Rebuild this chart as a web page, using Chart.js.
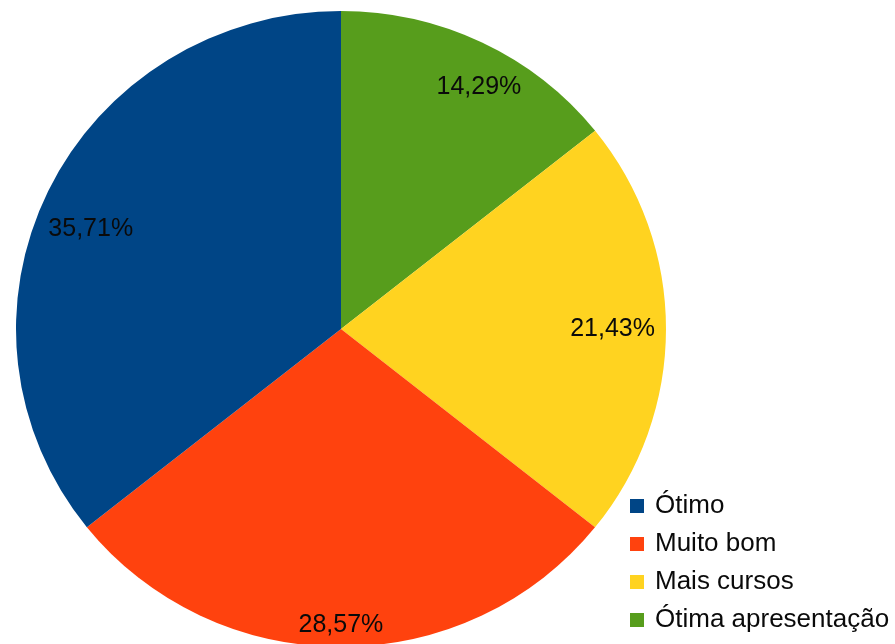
<!DOCTYPE html>
<html>
<head>
<meta charset="utf-8">
<script src="https://cdn.jsdelivr.net/npm/chart.js@4/dist/chart.umd.min.js"></script>
<style>
  html, body { margin: 0; padding: 0; background: #ffffff; overflow: hidden; }
  #wrap { position: absolute; left: 0; top: 0; width: 895px; height: 647px; }
</style>
</head>
<body>
<div id="wrap"><canvas id="c"></canvas></div>
<script>
// Data (legend order)
const categories = ["Ótimo", "Muito bom", "Mais cursos", "Ótima apresentação"];
const percentages = [35.71, 28.57, 21.43, 14.29];
const sliceColors = ["#004586", "#ff420e", "#ffd320", "#579d1c"];

// Slices are drawn clockwise from the top starting with the last category
const drawOrder = [3, 2, 1, 0];
const pieLabels = drawOrder.map(i => categories[i]);
const pieValues = drawOrder.map(i => percentages[i]);
const pieColors = drawOrder.map(i => sliceColors[i]);

const FONT = "'Liberation Sans', Arial, sans-serif";
const STRETCH_X = 1.022; // the original pie is very slightly wider than tall

const stretchPlugin = {
  id: 'stretch',
  beforeDatasetsDraw(chart) {
    const meta = chart.getDatasetMeta(0);
    const arc = meta.data[0];
    const ctx = chart.ctx;
    ctx.save();
    ctx.translate(arc.x, arc.y);
    ctx.scale(STRETCH_X, 1);
    ctx.translate(-arc.x, -arc.y);
  },
  afterDatasetsDraw(chart) {
    chart.ctx.restore();
  }
};

const labelPlugin = {
  id: 'sliceLabels',
  afterDatasetsDraw(chart) {
    const ctx = chart.ctx;
    const meta = chart.getDatasetMeta(0);
    ctx.save();
    ctx.font = "25px " + FONT;
    ctx.fillStyle = "#0a0a0a";
    ctx.textAlign = "center";
    ctx.textBaseline = "middle";
    meta.data.forEach((arc, i) => {
      const p = arc.getProps(['x', 'y', 'startAngle', 'endAngle', 'outerRadius'], true);
      let mid = (p.startAngle + p.endAngle) / 2;
      // labels lean slightly toward the horizontal axis
      mid -= (4.3 * Math.PI / 180) * Math.sin(2 * mid);
      const ux = Math.cos(mid), uy = Math.sin(mid);
      const txt = pieValues[i].toFixed(2).replace('.', ',') + '%';
      const w = ctx.measureText(txt).width;
      const h = 22;
      const rx = p.outerRadius * STRETCH_X, ry = p.outerRadius;
      const ext = Math.abs(ux) * w / 2 + Math.abs(uy) * h / 2;
      const m = 11;
      ctx.fillText(txt, p.x + ux * (rx - m - ext), p.y + uy * (ry - m - ext));
    });
    ctx.restore();
  }
};

const legendPlugin = {
  id: 'sideLegend',
  afterDraw(chart) {
    const ctx = chart.ctx;
    ctx.save();
    ctx.font = "26px " + FONT;
    ctx.textAlign = "left";
    ctx.textBaseline = "alphabetic";
    const x0 = 630, y0 = 513, step = 38, box = 14;
    categories.forEach((name, i) => {
      const base = y0 + i * step;
      ctx.fillStyle = sliceColors[i];
      ctx.fillRect(x0, base - box, box, box);
      ctx.fillStyle = "#0a0a0a";
      ctx.fillText(name, x0 + 25, base);
    });
    ctx.restore();
  }
};

new Chart(document.getElementById('c'), {
  type: 'pie',
  data: {
    labels: pieLabels,
    datasets: [{
      data: pieValues,
      backgroundColor: pieColors,
      borderWidth: 0,
      hoverOffset: 0
    }]
  },
  options: {
    responsive: true,
    maintainAspectRatio: false,
    animation: false,
    events: [],
    layout: { padding: { left: 23, right: 236, top: 11, bottom: 0 } },
    plugins: {
      legend: { display: false },
      tooltip: { enabled: false },
      title: { display: false }
    }
  },
  plugins: [stretchPlugin, labelPlugin, legendPlugin]
});
</script>
</body>
</html>
